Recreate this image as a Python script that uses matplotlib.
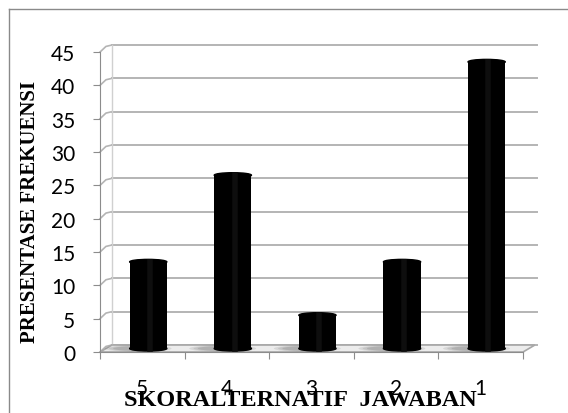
import matplotlib.pyplot as plt
from matplotlib.patches import Ellipse, Polygon
from matplotlib.lines import Line2D

categories = ['5', '4', '3', '2', '1']
values = [13, 26, 5, 13, 43]
yticks = list(range(0, 50, 5))
xlabel = 'SKORALTERNATIF  JAWABAN'
ylabel = 'PRESENTASE FREKUENSI'

# depth of the fake 3d box, in data units
OFF_X = 0.14
OFF_Y = 1.05
BAR_W = 0.44
CAP_H = 0.75

fig = plt.figure(figsize=(5.68, 4.14), dpi=100)
ax = fig.add_axes([0.1761, 0.1473, 0.7447, 0.7246])
ax.set_xlim(-0.5, len(categories) - 0.5)
ax.set_ylim(0, 45)

grid_c = '#b4b4b4'
axis_c = '#8c8c8c'

# back wall grid + little side-wall diagonals
x0, x1 = ax.get_xlim()
for y in yticks:
    ax.plot([x0 + OFF_X, x1 + OFF_X + 0.03], [y + OFF_Y, y + OFF_Y], color=grid_c, lw=1.4, zorder=1, clip_on=False)
    ax.plot([x0, x0 + OFF_X * 0.5, x0 + OFF_X], [y, y + OFF_Y * 0.8, y + OFF_Y], color=grid_c, lw=1.2, zorder=1, clip_on=False)
ax.plot([x0 + OFF_X, x0 + OFF_X], [OFF_Y, 45 + OFF_Y], color='#d0d0d0', lw=1, zorder=1, clip_on=False)

# floor
floor = Polygon([(x0, 0), (x1, 0), (x1 + OFF_X, OFF_Y), (x0 + OFF_X, OFF_Y)],
                closed=True, facecolor='#ececec', edgecolor='#a8a8a8', lw=1.2, zorder=1.5, clip_on=False)
ax.add_patch(floor)

xs = [i + OFF_X / 2 for i in range(len(categories))]

# soft shadows on the floor
for i, x in enumerate(xs):
    for k, a in enumerate([0.12, 0.12, 0.15]):
        ax.add_patch(Ellipse((x - 0.12, OFF_Y / 2), width=BAR_W + 0.35 - k * 0.1, height=1.0 - k * 0.15,
                             facecolor='#404040', alpha=a, lw=0, zorder=2))

# cylinders
ax.bar(xs, values, bottom=OFF_Y / 2, width=BAR_W, color='black', zorder=3)
for x, v in zip(xs, values):
    ax.add_patch(Ellipse((x, OFF_Y / 2), width=BAR_W, height=CAP_H, color='black', zorder=3))
    ax.add_patch(Ellipse((x, v + OFF_Y / 2), width=BAR_W, height=CAP_H, color='black', zorder=4))
    ax.plot([x + 0.02, x + 0.02], [OFF_Y / 2, v + OFF_Y / 2], color='#0e0e0e', lw=4, zorder=4)

# axes styling
for s in ['top', 'right']:
    ax.spines[s].set_visible(False)
ax.spines['left'].set_color(axis_c)
ax.spines['bottom'].set_color(axis_c)
ax.spines['left'].set_zorder(5)

ax.set_yticks(yticks)
ax.tick_params(axis='y', length=5, color=axis_c, pad=13, labelsize=15)
ax.set_xticks([i - 0.5 for i in range(len(categories) + 1)])
ax.set_xticklabels([])
ax.set_xticks(range(len(categories)), minor=True)
ax.set_xticklabels(categories, minor=True)
ax.tick_params(axis='x', which='major', length=5, color=axis_c)
ax.tick_params(axis='x', which='minor', length=0, pad=18.5, labelsize=15)
for lab in ax.get_xticklabels(minor=True) + ax.get_yticklabels():
    lab.set_family('Lato')

fig.text(30 / 568, 1 - 212 / 414, ylabel, rotation=90, family='Liberation Serif',
         weight='bold', size=15, ha='center', va='center')
fig.text(300 / 568, 1 - 401 / 414, xlabel, family='Liberation Serif',
         weight='bold', size=17.5, ha='center', va='center')

# chart frame (only left and top edges fall inside the picture)
fx, fy = 9 / 568, 1 - 10 / 414
fig.add_artist(Line2D([fx, fx], [0, fy], transform=fig.transFigure, color='#8a8a8a', lw=1))
fig.add_artist(Line2D([fx, 1], [fy, fy], transform=fig.transFigure, color='#8a8a8a', lw=1))

fig.savefig('out.png', dpi=100)
